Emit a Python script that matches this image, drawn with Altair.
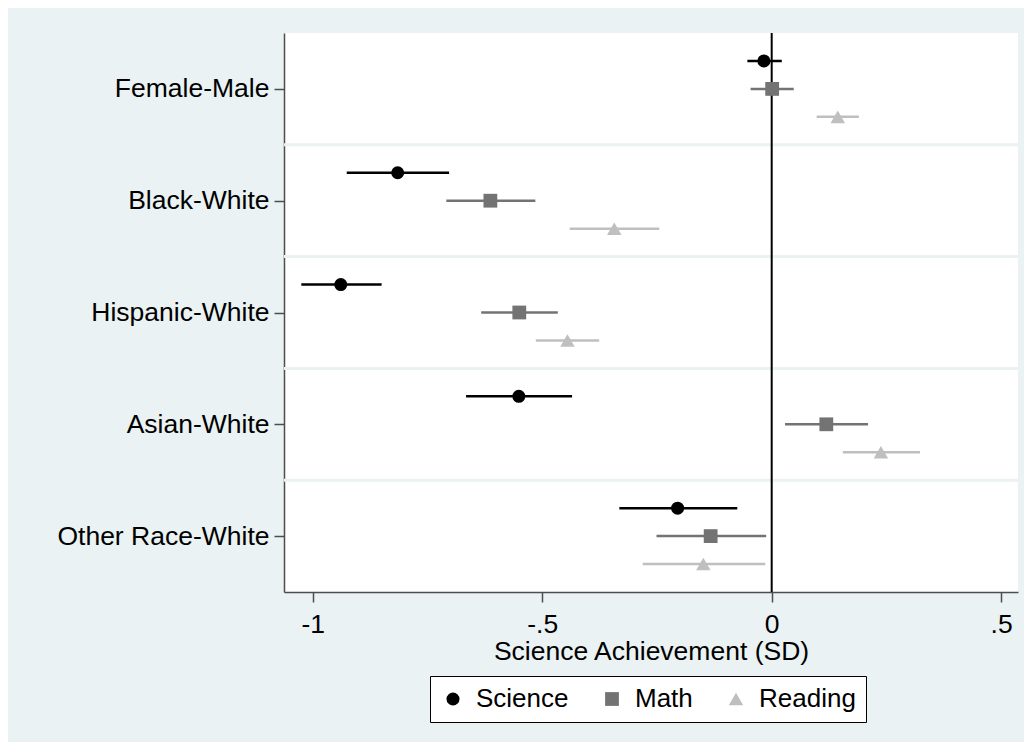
import altair as alt
import pandas as pd

groups = ["Female-Male", "Black-White", "Hispanic-White", "Asian-White", "Other Race-White"]
series = ["Science", "Math", "Reading"]
series_offset = [-0.25, 0.0, 0.25]

science_est = [-0.017, -0.815, -0.939, -0.551, -0.205]
science_lo = [-0.053, -0.926, -1.025, -0.666, -0.332]
science_hi = [0.022, -0.703, -0.850, -0.435, -0.075]

math_est = [0.001, -0.613, -0.550, 0.119, -0.133]
math_lo = [-0.046, -0.709, -0.633, 0.029, -0.251]
math_hi = [0.048, -0.515, -0.466, 0.210, -0.012]

reading_est = [0.144, -0.343, -0.445, 0.238, -0.149]
reading_lo = [0.098, -0.440, -0.514, 0.155, -0.281]
reading_hi = [0.190, -0.245, -0.376, 0.323, -0.014]

x_ticks = [-1, -0.5, 0, 0.5]
x_tick_labels = ["-1", "-.5", "0", ".5"]

colors = ["#000000", "#737373", "#bfbfbf"]
shapes = ["circle", "square", "triangle-up"]
sizes = [170, 210, 260]

est = [science_est, math_est, reading_est]
lo = [science_lo, math_lo, reading_lo]
hi = [science_hi, math_hi, reading_hi]

rows = []
for si, s in enumerate(series):
    for gi, g in enumerate(groups):
        rows.append({
            "group": g,
            "series": s,
            "pos": gi + 0.5 + series_offset[si],
            "est": est[si][gi],
            "lo": lo[si][gi],
            "hi": hi[si][gi],
        })
df = pd.DataFrame(rows)

sep_df = pd.DataFrame({"y": [i for i in range(1, len(groups))]})
zero_df = pd.DataFrame({"x": [0]})

W, H = 734, 559
xdom = [-1.0627, 0.5367]
FS = 26.5

y_label_expr = "[" + ",".join("'" + g + "'" for g in groups) + "][floor(datum.value)]"
x_label_expr = ""
for v, lab in zip(x_ticks, x_tick_labels):
    x_label_expr += f"abs(datum.value - ({v})) < 1e-6 ? '{lab}' : "
x_label_expr += "''"

xscale = alt.Scale(domain=xdom, nice=False, zero=False)
yscale = alt.Scale(domain=[0, len(groups)], reverse=True, nice=False, zero=False)

xaxis = alt.Axis(values=x_ticks, labelExpr=x_label_expr, title="Science Achievement (SD)",
                 grid=False, tickSize=10, labelPadding=9, titlePadding=1,
                 labelFontSize=FS, titleFontSize=FS, titleFontWeight="normal",
                 domainColor="#4d4d4d", tickColor="#4d4d4d", domainWidth=1.5, tickWidth=1.5,
                 labelColor="#000000", titleColor="#000000")
yaxis = alt.Axis(values=[i + 0.5 for i in range(len(groups))], labelExpr=y_label_expr, title=None,
                 grid=False, tickSize=10, labelPadding=5, labelFontSize=FS, labelLimit=400,
                 domainColor="#4d4d4d", tickColor="#4d4d4d", domainWidth=1.5, tickWidth=1.5,
                 labelColor="#000000")

sep = alt.Chart(sep_df).mark_rule(color="#eaf2f3", strokeWidth=3).encode(
    y=alt.Y("y:Q", scale=yscale, axis=yaxis),
    x=alt.value(0), x2=alt.value(W),
)

zero = alt.Chart(zero_df).mark_rule(color="#000000", strokeWidth=2).encode(
    x=alt.X("x:Q", scale=xscale, axis=xaxis),
    y=alt.value(0), y2=alt.value(H),
)

cscale = alt.Scale(domain=series, range=colors)
leg = alt.Legend(title=None, orient="none", legendX=146, legendY=643, direction="horizontal",
                 strokeColor="#000000", fillColor="#ffffff", padding=10,
                 labelFontSize=26, labelColor="#000000", symbolSize=160, symbolStrokeWidth=0,
                 columnPadding=30, labelOffset=10, symbolOpacity=1)

bars = alt.Chart(df).mark_rule(strokeWidth=2.5).encode(
    x=alt.X("lo:Q", scale=xscale, axis=xaxis),
    x2="hi:Q",
    y=alt.Y("pos:Q", scale=yscale, axis=yaxis),
    color=alt.Color("series:N", scale=cscale, legend=leg),
)

points = alt.Chart(df).mark_point(filled=True, opacity=1, strokeWidth=0).encode(
    x=alt.X("est:Q", scale=xscale, axis=xaxis),
    y=alt.Y("pos:Q", scale=yscale, axis=yaxis),
    color=alt.Color("series:N", scale=cscale, legend=leg),
    shape=alt.Shape("series:N", scale=alt.Scale(domain=series, range=shapes), legend=leg),
    size=alt.Size("series:N", scale=alt.Scale(domain=series, range=sizes), legend=None),
)

chart = alt.layer(sep, zero, bars, points).properties(
    width=W, height=H,
    background="#eaf2f3",
    padding={"left": 276, "top": 25, "right": 6, "bottom": 150},
    autosize=alt.AutoSizeParams(type="none"),
).configure(
    font="Liberation Sans",
).configure_view(
    fill="#ffffff", strokeWidth=0,
)

chart.save("out.html", embed_options={"renderer": "svg", "actions": False})
